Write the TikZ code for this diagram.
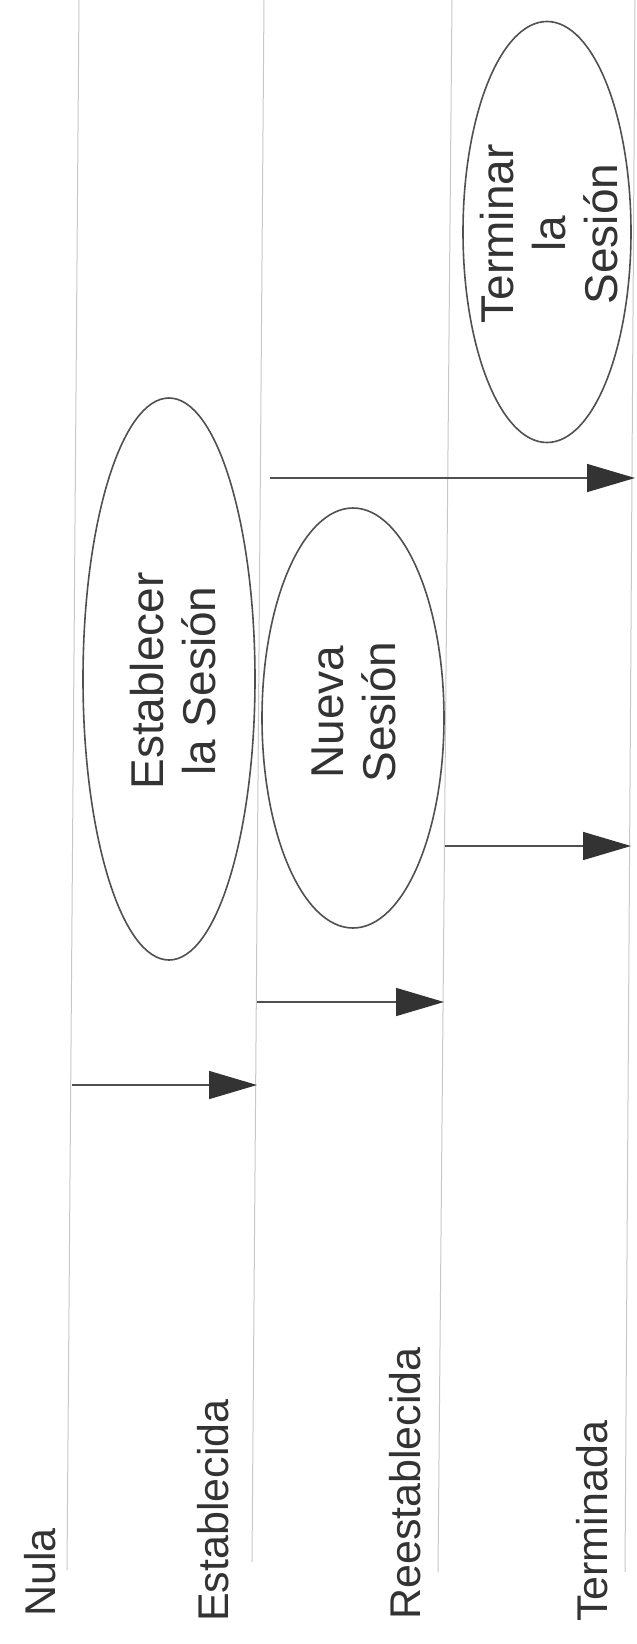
\documentclass[tikz,border=0pt]{standalone}
\usepackage{fontspec}
\setmainfont{Liberation Sans}
\usetikzlibrary{shapes.geometric,arrows.meta}
\definecolor{ink}{HTML}{333333}
\definecolor{stroke}{HTML}{505050}
\definecolor{rulegray}{HTML}{C8C8C8}
\begin{document}
\begin{tikzpicture}[x=1pt,y=-1pt,
  lane/.style={draw=rulegray, line width=1pt},
  lbl/.style={rotate=90, anchor=base west, inner sep=0pt, text=ink, font=\fontsize{43}{50}\selectfont},
  oval/.style={ellipse, draw=stroke, line width=1.6pt, inner sep=0pt},
  acttext/.style={rotate=90, align=center, text=ink, inner sep=0pt, font=\fontsize{46}{52}\selectfont},
  trans/.style={draw=stroke, line width=1.6pt, -{Triangle[length=48pt,width=28pt,color=ink]}}]
\useasboundingbox (0,0) rectangle (637,1644);
\fill[white] (0,0) rectangle (637,1644);

% swimlane separators
\coordinate (n0) at (79,0);  \coordinate (n1) at (67,1570);
\coordinate (e0) at (264,0); \coordinate (e1) at (252,1562);
\coordinate (r0) at (452,0); \coordinate (r1) at (438,1572);
\coordinate (t0) at (635,0); \coordinate (t1) at (625,1572);
\draw[lane] (n0) -- (n1);
\draw[lane] (e0) -- (e1);
\draw[lane] (r0) -- (r1);
\draw[lane] (t0) -- (t1);

% state labels
\node[lbl] (nula)  at (55,1617)  {Nula};
\node[lbl] (estab) at (228,1622) {Establecida};
\node[lbl] (reest) at (420,1620) {Reestablecida};
\node[lbl] (term)  at (607,1622) {Terminada};

% activities
\node[oval, minimum width=172pt, minimum height=562pt] (establecer) at (169,679) {};
\node[acttext] (establecerT) at (173,681) {Establecer\\la Sesión};
\node[oval, minimum width=182pt, minimum height=420pt] (nueva) at (353,718) {};
\node[acttext] (nuevaT) at (354,712) {Nueva\\Sesión};
\node[oval, minimum width=168pt, minimum height=421pt] (terminar) at (547,232) {};
\node[acttext] (terminarT) at (549,234) {Terminar\\la\\Sesión};

% transitions
\coordinate (a1s) at (72,1085);  \coordinate (a1e) at (257,1085);
\coordinate (a2s) at (257,1002); \coordinate (a2e) at (444,1002);
\coordinate (a3s) at (445,846);  \coordinate (a3e) at (631,846);
\coordinate (a4s) at (270,478);  \coordinate (a4e) at (635,478);
\draw[trans] (a1s) -- (a1e);
\draw[trans] (a2s) -- (a2e);
\draw[trans] (a3s) -- (a3e);
\draw[trans] (a4s) -- (a4e);
\end{tikzpicture}
\end{document}
